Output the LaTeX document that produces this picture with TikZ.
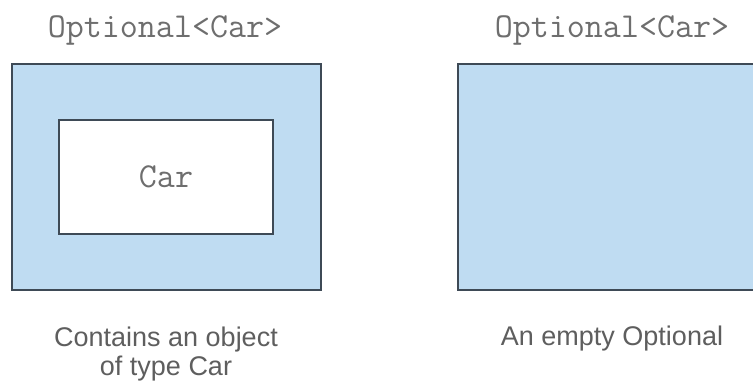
\documentclass[tikz,border=0pt]{standalone}
\usepackage{fontspec}
\setmainfont{Liberation Sans}
\usetikzlibrary{positioning}
\definecolor{optfill}{HTML}{BFDCF2}
\definecolor{optline}{HTML}{3E4A56}
\definecolor{txtgray}{HTML}{6E6E6E}
\begin{document}
\begin{tikzpicture}[x=1pt, y=-1pt,
  box/.style={rectangle, draw=optline, line width=1.6pt, fill=#1,
    minimum width=309pt, minimum height=226pt, inner sep=0pt},
  title/.style={anchor=base, text=txtgray, inner sep=0pt,
    font=\fontsize{35}{40}\selectfont\ttfamily},
  caption/.style={anchor=base, text=txtgray!85!black, inner sep=0pt, align=center,
    font=\fontsize{27}{29}\selectfont}
]
\useasboundingbox (0,0) rectangle (753,382);
% left: optional holding a car
\node[box=optfill] (full) at (166.5,177) {};
\node[box=white, minimum width=214pt, minimum height=114pt] (car) at (166,177)
  {\fontsize{35}{40}\selectfont\ttfamily\color{txtgray}Car};
\node[title] (fulltitle) at (165,38) {Optional<Car>};
\node[caption] (fullcap) at (166,375) {Contains an object\\of type Car};
% right: empty optional
\node[box=optfill, minimum width=298pt] (empty) at (607,177) {};
\node[title] (emptytitle) at (612,38) {Optional<Car>};
\node[caption] (emptycap) at (612,345) {An empty Optional};
\end{tikzpicture}
\end{document}
